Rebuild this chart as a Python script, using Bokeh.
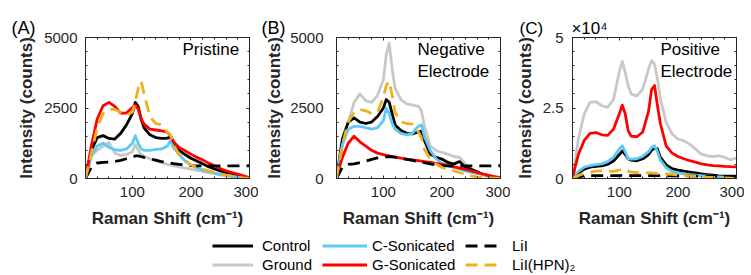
from bokeh.plotting import figure
from bokeh.models import (Range1d, FixedTicker, Label, Legend, LegendItem, LinearAxis,
                          CustomJSTickFormatter, Title)
from bokeh.layouts import column, row
from bokeh.embed import file_html
from bokeh.resources import INLINE

# ---------------- data ----------------
raman_shift = [20, 25, 30, 40, 50, 60, 70, 80, 90, 100, 105, 110, 115, 120, 130, 140, 150,
               155, 160, 165, 170, 180, 190, 200, 210, 220, 230, 240, 250, 260, 270, 280, 290, 300]

# (A) Pristine
control_a = [0, 500, 1000, 1450, 1520, 1420, 1400, 1600, 1900, 2300, 2700, 2550, 2100, 1800, 1550, 1450, 1420,
             1420, 1430, 1480, 1300, 1000, 850, 720, 620, 520, 420, 340, 270, 200, 150, 100, 50, 20]
ground_a = [0, 400, 800, 1000, 1150, 1280, 900, 820, 850, 950, 1200, 1000, 850, 780, 700, 620, 560,
            530, 500, 470, 450, 410, 370, 330, 290, 250, 210, 170, 130, 100, 70, 45, 20, 5]
csonic_a = [0, 400, 800, 1150, 1250, 1100, 1020, 1000, 1050, 1250, 1520, 1250, 1050, 1000, 1000, 1030, 1050,
            1100, 1150, 1350, 1100, 850, 620, 480, 380, 300, 240, 190, 150, 110, 80, 50, 25, 10]
gsonic_a = [0, 570, 1160, 2110, 2580, 2700, 2560, 2320, 2320, 2520, 2610, 2460, 2110, 1930, 1750, 1720, 1690,
            1670, 1640, 1520, 1300, 1100, 985, 865, 750, 660, 545, 450, 355, 270, 213, 154, 95, 20]
lii_a = [0, 200, 400, 550, 570, 580, 600, 640, 700, 760, 800, 800, 780, 750, 700, 650, 600,
         580, 560, 545, 530, 500, 480, 460, 450, 450, 450, 450, 450, 450, 450, 450, 450, 450]
hpn_a = [0, 400, 900, 1800, 2300, 2450, 2450, 2350, 2250, 2350, 2700, 3200, 3450, 3000, 2200, 1950, 1900,
         1750, 1650, 1550, 1200, 850, 650, 480, 400, 330, 270, 220, 170, 120, 80, 50, 20, 0]

# (B) Negative electrode
control_b = [0, 700, 1400, 2000, 2150, 2000, 1950, 2000, 2200, 2500, 2800, 2700, 2300, 1900, 1700, 1600, 1580,
             1620, 1650, 1680, 1350, 870, 750, 690, 570, 510, 600, 390, 330, 240, 150, 95, 35, 20]
ground_b = [0, 600, 1200, 2000, 2700, 3000, 2750, 2700, 2950, 3500, 4400, 4800, 3900, 3200, 2800, 2650, 2600,
            2580, 2560, 2400, 1870, 1160, 985, 925, 865, 780, 750, 510, 330, 213, 120, 70, 35, 20]
csonic_b = [0, 600, 1200, 1750, 1850, 1850, 1800, 1750, 1800, 2050, 2500, 2300, 1950, 1750, 1600, 1550, 1600,
            1750, 1850, 1900, 1500, 1000, 700, 540, 450, 390, 340, 270, 220, 180, 150, 100, 50, 10]
gsonic_b = [0, 400, 750, 1250, 1500, 1300, 1150, 1000, 900, 850, 820, 800, 780, 760, 720, 690, 660,
            645, 630, 615, 600, 570, 540, 500, 460, 420, 370, 320, 270, 210, 160, 110, 70, 30]
lii_b = [0, 200, 400, 500, 520, 560, 620, 680, 730, 760, 770, 780, 770, 760, 720, 680, 640,
         620, 600, 580, 560, 520, 480, 460, 450, 450, 450, 450, 450, 450, 450, 450, 450, 450]
hpn_b = [0, 600, 1200, 2000, 2350, 2450, 2400, 2300, 2350, 2880, 3300, 3450, 2950, 2350, 2010, 1950, 1930,
         1800, 1640, 1450, 1040, 690, 510, 390, 330, 270, 213, 150, 95, 60, 40, 20, 10, 0]

# (C) Positive electrode
control_c = [0, 1200, 2000, 3300, 4000, 4300, 4500, 5000, 6200, 8500, 9800, 8500, 7000, 6500, 6300, 7000, 8500,
             10000, 10800, 10500, 7500, 4800, 3500, 3000, 2600, 2300, 2000, 1600, 1400, 1200, 950, 800, 700, 600]
ground_c = [0, 6900, 14000, 22900, 27000, 27300, 25800, 25200, 28000, 38000, 41500, 37500, 33000, 30000, 29200,
            31800, 38900, 41800, 40600, 35300, 28200, 19900, 15800, 14000, 13400, 12200, 10400, 8650, 8060,
            7800, 8060, 7470, 6640, 7230]
csonic_c = [0, 1500, 2500, 4000, 4600, 4900, 5200, 6000, 7500, 10500, 11600, 9500, 7000, 6900, 7000, 7900, 9500,
            11000, 11600, 9500, 6500, 3800, 2500, 2000, 1650, 1400, 1200, 1000, 900, 750, 600, 450, 350, 250]
gsonic_c = [0, 4500, 8500, 13500, 16000, 16300, 15500, 15300, 17500, 23000, 26000, 23000, 17000, 15000, 14800,
            16500, 24000, 31500, 33000, 26000, 19500, 11500, 9000, 7800, 7000, 6300, 5800, 5200, 4800, 4600,
            4500, 4300, 4200, 4150]
lii_c = [0, 300, 600, 900, 1000, 1000, 1000, 1000, 1000, 1050, 1100, 1100, 1050, 1000, 1000, 1000, 1000,
         1000, 1000, 1000, 1000, 950, 950, 900, 900, 900, 850, 850, 850, 850, 850, 800, 800, 800]
hpn_c = [0, 500, 1000, 1800, 2200, 2600, 2700, 2500, 2500, 3000, 3400, 3200, 2600, 2300, 2100, 2100, 2000,
         2000, 1900, 1800, 1700, 1600, 1500, 1300, 1100, 950, 800, 650, 500, 400, 300, 200, 100, 0]

series_names = ["Control", "Ground", "C-Sonicated", "G-Sonicated", "LiI", "LiI(HPN)\u2082"]
x_ticks = [100, 200, 300]
x_minor = list(range(20, 301, 20))

# ---------------- styling ----------------
FONT = "Liberation Sans"
AX = "#262626"
DASH = "12 7"
LW = 2.8
STYLE = {
    "Control": dict(color="#000000", dash="solid"),
    "Ground": dict(color="#c8c8c8", dash="solid"),
    "C-Sonicated": dict(color="#5ccaf2", dash="solid"),
    "G-Sonicated": dict(color="#ff0000", dash="solid"),
    "LiI": dict(color="#000000", dash=DASH),
    "LiI(HPN)\u2082": dict(color="#edb120", dash=DASH),
}
DRAW_ORDER = ["Ground", "Control", "C-Sonicated", "G-Sonicated", "LiI", "LiI(HPN)\u2082"]


def style_axis(ax, tick_standoff=8, label_standoff=6, labels=True):
    ax.axis_line_color = AX
    ax.axis_line_width = 1
    ax.major_tick_line_color = AX
    ax.minor_tick_line_color = AX
    ax.major_tick_in = 3
    ax.major_tick_out = 0
    ax.minor_tick_in = 2
    ax.minor_tick_out = 0
    ax.major_label_text_font = FONT
    ax.major_label_text_font_size = "15px" if labels else "0px"
    ax.major_label_text_color = AX if labels else None
    ax.major_label_standoff = tick_standoff if labels else 0
    ax.axis_label_text_font = FONT
    ax.axis_label_text_font_size = "17px"
    ax.axis_label_text_font_style = "bold"
    ax.axis_label_text_color = AX
    ax.axis_label_standoff = label_standoff


def make_panel(series, ymax, yticks, yminor, left, right, ytick_standoff, ylabel_standoff,
               tag, tag_dx, tag_size, note, note_dx, formatter=None):
    p = figure(frame_width=164, frame_height=141,
               x_range=Range1d(20, 300), y_range=Range1d(0, ymax),
               output_backend="svg", toolbar_location=None,
               min_border_left=left, min_border_right=right,
               min_border_top=37, min_border_bottom=54,
               x_axis_label="Raman Shift (cm\u207b\u00b9)",
               y_axis_label="Intensity (counts)")
    p.grid.visible = False
    p.outline_line_color = AX
    p.outline_line_width = 1
    p.background_fill_color = "white"
    p.border_fill_color = None

    p.title = Title(text=tag, align="left", offset=tag_dx, standoff=0,
                    text_font=FONT, text_font_size=tag_size, text_font_style="normal",
                    text_color="#000000")

    xt = FixedTicker(ticks=x_ticks, minor_ticks=x_minor)
    yt = FixedTicker(ticks=yticks, minor_ticks=yminor)
    p.xaxis.ticker = xt
    p.yaxis.ticker = yt
    style_axis(p.xaxis[0], tick_standoff=8, label_standoff=9)
    style_axis(p.yaxis[0], tick_standoff=ytick_standoff, label_standoff=ylabel_standoff)
    if formatter is not None:
        p.yaxis.formatter = formatter

    # MATLAB-style box: ticks on the top and right edges too (no labels)
    top = LinearAxis(ticker=xt)
    style_axis(top, labels=False)
    p.add_layout(top, "above")
    rgt = LinearAxis(ticker=yt)
    style_axis(rgt, labels=False)
    p.add_layout(rgt, "right")

    for name in DRAW_ORDER:
        st = STYLE[name]
        p.line(raman_shift, series[name], line_color=st["color"], line_width=LW,
               line_dash=st["dash"], line_join="round")

    p.add_layout(Label(x=300, y=ymax, x_offset=note_dx, y_offset=-2, text=note,
                       text_align="left", text_baseline="top", text_font=FONT,
                       text_font_size="17px", text_color="#000000", text_line_height=1.2))
    return p


pa = make_panel(dict(zip(series_names, [control_a, ground_a, csonic_a, gsonic_a, lii_a, hpn_a])),
                5000, [0, 2500, 5000], list(range(0, 5001, 500)),
                left=85, right=9, ytick_standoff=8, ylabel_standoff=5,
                tag="(A)", tag_dx=-74, tag_size="18px", note="Pristine", note_dx=-67)
pb = make_panel(dict(zip(series_names, [control_b, ground_b, csonic_b, gsonic_b, lii_b, hpn_b])),
                5000, [0, 2500, 5000], list(range(0, 5001, 500)),
                left=78, right=10, ytick_standoff=13, ylabel_standoff=3,
                tag="(B)", tag_dx=-75, tag_size="18px", note="Negative\nElectrode", note_dx=-83)
fmt = CustomJSTickFormatter(code="return String(tick / 10000);")
# panel C: the tag and the axis exponent share the title line
pc = make_panel(dict(zip(series_names, [control_c, ground_c, csonic_c, gsonic_c, lii_c, hpn_c])),
                50000, [0, 25000, 50000], list(range(0, 50001, 5000)),
                left=62, right=8, ytick_standoff=9, ylabel_standoff=5,
                tag="(C)" + "\u00a0" * 6 + "\u00d710\u2074", tag_dx=-53, tag_size="17px",
                note="Positive\nElectrode", note_dx=-76, formatter=fmt)

# ---------------- legend strip ----------------
lp = figure(width=744, height=41, x_range=Range1d(0, 1), y_range=Range1d(-2, -1),
            output_backend="svg", toolbar_location=None, min_border=0,
            x_axis_location=None, y_axis_location=None)
lp.grid.visible = False
lp.outline_line_color = None
rend = {}
for name, vals in zip(series_names, [control_a, ground_a, csonic_a, gsonic_a, lii_a, hpn_a]):
    st = STYLE[name]
    rend[name] = lp.line(raman_shift, vals, line_color=st["color"], line_width=LW,
                         line_dash=st["dash"])

columns = [(["Control", "Ground"], 212, 41, 9),
           (["C-Sonicated", "G-Sonicated"], 322, 45, 5),
           (["LiI", "LiI(HPN)\u2082"], 465, 35, 12)]
for names, xpos, gw, standoff in columns:
    leg = Legend(items=[LegendItem(label=n, renderers=[rend[n]]) for n in names],
                 location=(xpos, 0), orientation="vertical",
                 glyph_width=gw, glyph_height=17, label_height=17, label_standoff=standoff,
                 spacing=2, padding=0, margin=0, border_line_color=None,
                 background_fill_alpha=0, label_text_font=FONT,
                 label_text_font_size="15px", label_text_color="#000000")
    lp.add_layout(leg, "center")

layout = column(row(pa, pb, pc), lp)
open("out.html", "w").write(file_html(layout, INLINE))
